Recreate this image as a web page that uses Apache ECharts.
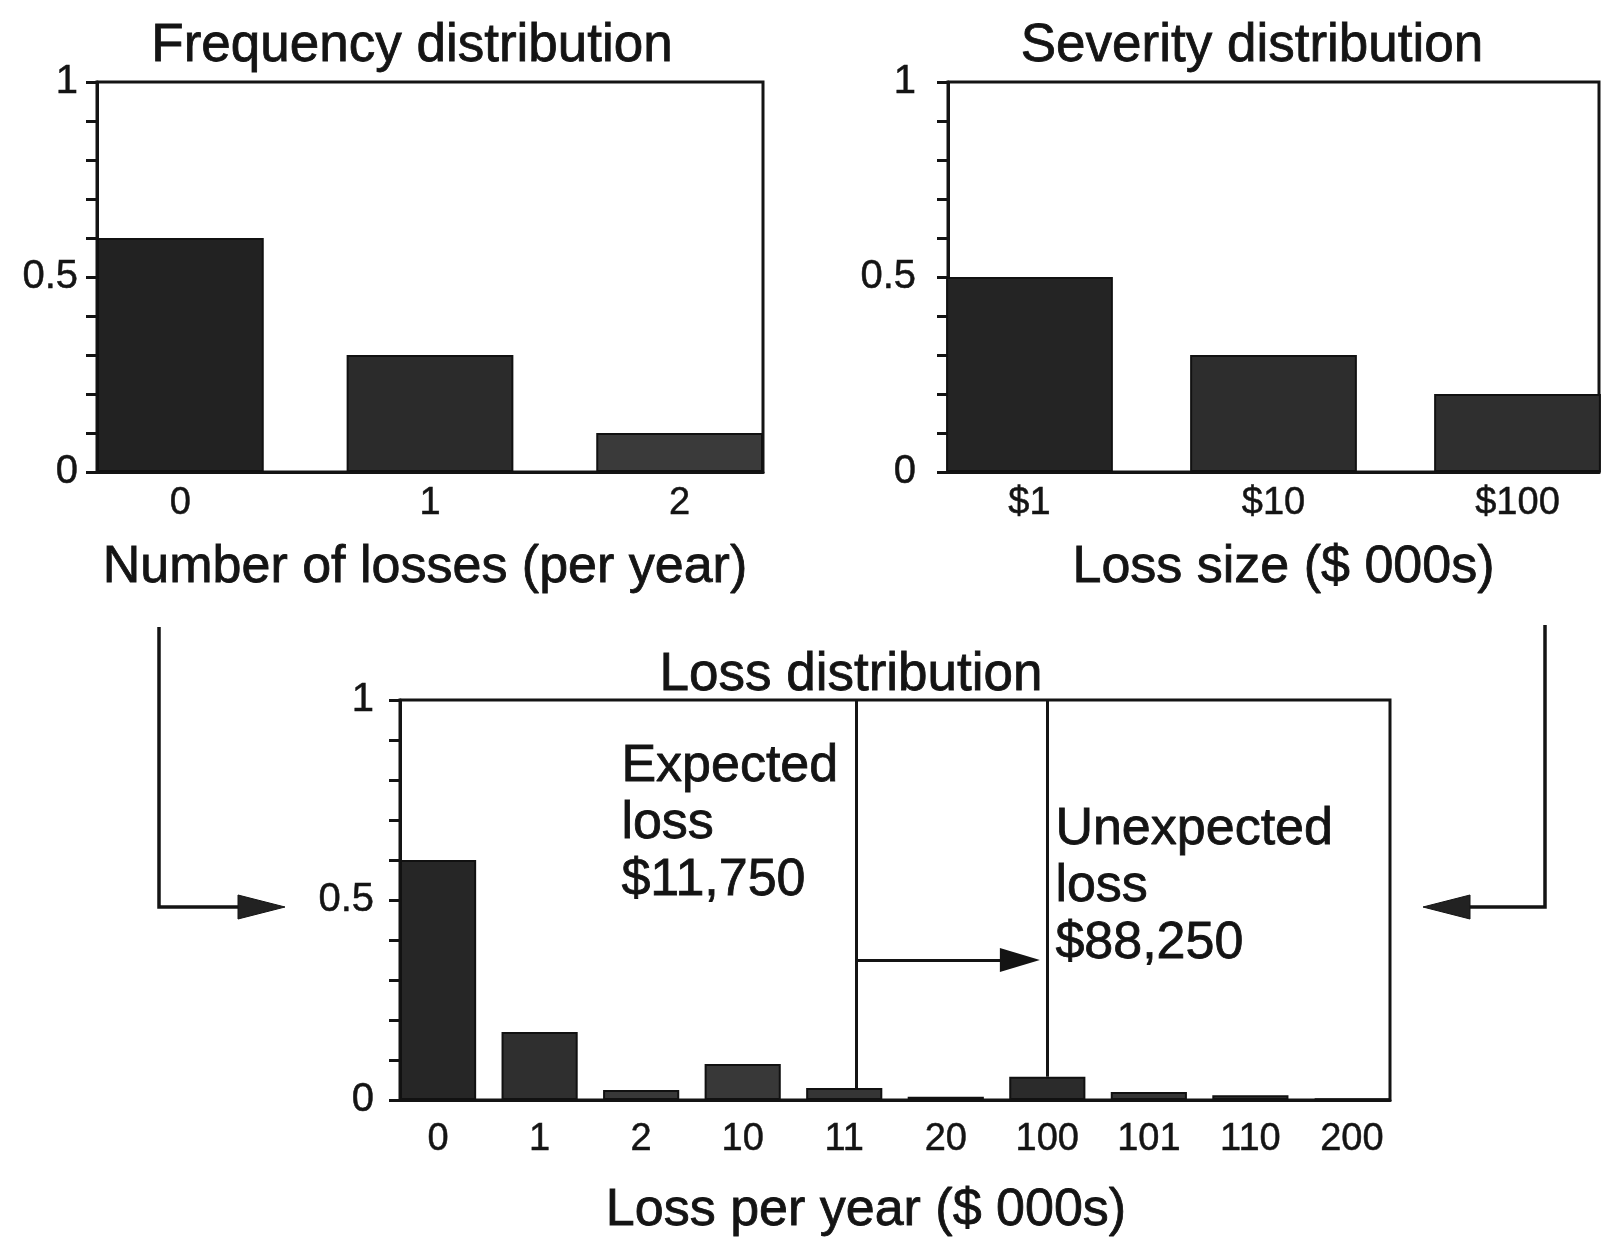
<!DOCTYPE html>
<html>
<head>
<meta charset="utf-8">
<script src="https://cdn.jsdelivr.net/npm/echarts@6/dist/echarts.min.js"></script>
<style>
html,body{margin:0;padding:0;background:#fff;}
#chart{width:1602px;height:1241px;}
</style>
</head>
<body>
<div id="chart"></div>
<script>
// ---------- data ----------
const freqCategories = ['0', '1', '2'];
const freqValues = [0.6, 0.3, 0.1];

const sevCategories = ['$1', '$10', '$100'];
const sevValues = [0.5, 0.3, 0.2];

const lossCategories = ['0', '1', '2', '10', '11', '20', '100', '101', '110', '200'];
const lossValues = [0.6, 0.17, 0.025, 0.09, 0.03, 0.008, 0.058, 0.02, 0.012, 0.004];

const yTickLabels = ['0', '0.5', '1'];

const titles = ['Frequency distribution', 'Severity distribution', 'Loss distribution'];
const axisNames = ['Number of losses (per year)', 'Loss size ($ 000s)', 'Loss per year ($ 000s)'];

// annotation positions (in loss-axis category index units / probability)
const expectedLossPos = 4.12;
const unexpectedLossPos = 6;
const arrowLevel = 0.35;
const expectedText = 'Expected\nloss\n$11,750';
const unexpectedText = 'Unexpected\nloss\n$88,250';

// ---------- chart ----------
const FONT = '"Liberation Sans", Arial, Helvetica, sans-serif';
const INK = '#141414';
const BOLDEN = {textBorderColor: INK, textBorderWidth: 0.8};

const chart = echarts.init(document.getElementById('chart'), null, {renderer: 'canvas'});

const grids = [
  {left: 97, top: 82, width: 666, height: 390},
  {left: 948, top: 82, width: 666, height: 390},
  {left: 400, top: 700, width: 990, height: 400}
];
const halfBar = [0.334, 0.334, 0.375];
const cats = [freqCategories, sevCategories, lossCategories];
const vals = [freqValues, sevValues, lossValues];

function xFormatter(list) {
  return function (v) {
    const r = Math.round(v);
    return (Math.abs(v - r) < 1e-6 && r >= 0 && r < list.length) ? list[r] : '';
  };
}
function yFormatter(v) {
  const k = Math.round(v * 10);
  if (Math.abs(v * 10 - k) > 1e-6) return '';
  if (k === 0) return yTickLabels[0];
  if (k === 5) return yTickLabels[1];
  if (k === 10) return yTickLabels[2];
  return '';
}

const xAxes = [], yAxes = [], series = [];
const namePadding = [[0, 10, 0, 0], [0, 0, 0, 20], [0, 58, 0, 0]];
const nameGaps = [70, 70, 85];
const labelMargins = [13, 13, 21];
const yLabelMargins = [19, 32, 26];
const barColors = [
  ['#222222', '#2b2b2b', '#3a3a3a'],
  ['#242424', '#2d2d2d', '#2f2f2f'],
  ['#262626', '#2f2f2f', '#383838', '#383838', '#353535', '#353535', '#2b2b2b', '#353535', '#353535', '#353535']
];

for (let g = 0; g < 3; g++) {
  const n = cats[g].length;
  const mn = -halfBar[g], mx = n - 1 + halfBar[g];
  const unit = grids[g].width / (mx - mn);
  xAxes.push({
    type: 'value', gridIndex: g, min: mn, max: mx,
    minInterval: 1, maxInterval: 1,
    splitLine: {show: false},
    axisTick: {show: false},
    axisLine: {show: true, onZero: false, lineStyle: {color: INK, width: 3}},
    axisLabel: Object.assign({
      formatter: xFormatter(cats[g]), fontFamily: FONT, fontSize: 38, color: INK,
      margin: labelMargins[g], showMinLabel: true, showMaxLabel: true, hideOverlap: false
    }, {textBorderColor: INK, textBorderWidth: 0.5}),
    name: axisNames[g], nameLocation: 'middle', nameGap: nameGaps[g],
    nameTextStyle: Object.assign({fontFamily: FONT, fontSize: 52, color: INK, padding: namePadding[g]}, BOLDEN)
  });
  yAxes.push({
    type: 'value', gridIndex: g, min: 0, max: 1, interval: 0.1,
    splitLine: {show: false},
    axisLine: {show: true, onZero: false, lineStyle: {color: INK, width: 3}},
    axisTick: {show: true, inside: false, length: 11, lineStyle: {color: INK, width: 3}},
    axisLabel: Object.assign({formatter: yFormatter, fontFamily: FONT, fontSize: 40, color: INK, margin: yLabelMargins[g]},
      {textBorderColor: INK, textBorderWidth: 0.5})
  });
  const colors = barColors[g];
  const s = {
    type: 'bar', xAxisIndex: g, yAxisIndex: g,
    data: vals[g].map((v, i) => [i, v]),
    barWidth: unit * 2 * halfBar[g],
    itemStyle: {color: (p) => colors[p.dataIndex % colors.length], borderColor: '#111', borderWidth: 2},
    silent: true
  };
  if (g === 2) {
    s.markLine = {
      silent: true, animation: false,
      label: {show: false},
      lineStyle: {color: INK, width: 3, type: 'solid'},
      symbol: ['none', 'none'],
      data: [
        [{coord: [expectedLossPos, 1]}, {coord: [expectedLossPos, lossValues[4]]}],
        [{coord: [unexpectedLossPos, 1]}, {coord: [unexpectedLossPos, lossValues[6]]}],
        [{coord: [expectedLossPos, arrowLevel], symbol: 'none'},
         {coord: [unexpectedLossPos - 0.27, arrowLevel], symbol: 'triangle', symbolSize: [24, 40]}]
      ]
    };
  }
  series.push(s);
}

const arrowStyle = {stroke: INK, lineWidth: 3.5, fill: null};
const headStyle = {fill: '#222', stroke: INK, lineWidth: 1};
const titleStyle = Object.assign({fontFamily: FONT, fontSize: 53, fontWeight: 'normal', color: INK}, BOLDEN);

const option = {
  animation: false,
  backgroundColor: '#fff',
  title: [
    {text: titles[0], left: 407, top: 15, textAlign: 'center', textStyle: titleStyle},
    {text: titles[1], left: 1247, top: 15, textAlign: 'center', textStyle: titleStyle},
    {text: titles[2], left: 846, top: 644, textAlign: 'center', textStyle: titleStyle}
  ],
  grid: grids.map(gr => Object.assign({show: true, borderColor: INK, borderWidth: 3, backgroundColor: 'transparent'}, gr)),
  xAxis: xAxes,
  yAxis: yAxes,
  series: series,
  graphic: [
    {type: 'text', left: 621, top: 738, silent: true,
     style: Object.assign({text: expectedText, font: '52px ' + FONT, fill: INK, lineHeight: 57, stroke: INK, lineWidth: 0.8})},
    {type: 'text', left: 1055, top: 801, silent: true,
     style: Object.assign({text: unexpectedText, font: '52px ' + FONT, fill: INK, lineHeight: 57, stroke: INK, lineWidth: 0.8})},
    {type: 'polyline', silent: true, shape: {points: [[159, 627], [159, 907], [245, 907]]}, style: arrowStyle},
    {type: 'polygon', silent: true, shape: {points: [[238, 895], [285, 907], [238, 919]]}, style: headStyle},
    {type: 'polyline', silent: true, shape: {points: [[1545, 625], [1545, 907], [1462, 907]]}, style: arrowStyle},
    {type: 'polygon', silent: true, shape: {points: [[1470, 895], [1423, 907], [1470, 919]]}, style: headStyle}
  ]
};

chart.setOption(option);
</script>
</body>
</html>
